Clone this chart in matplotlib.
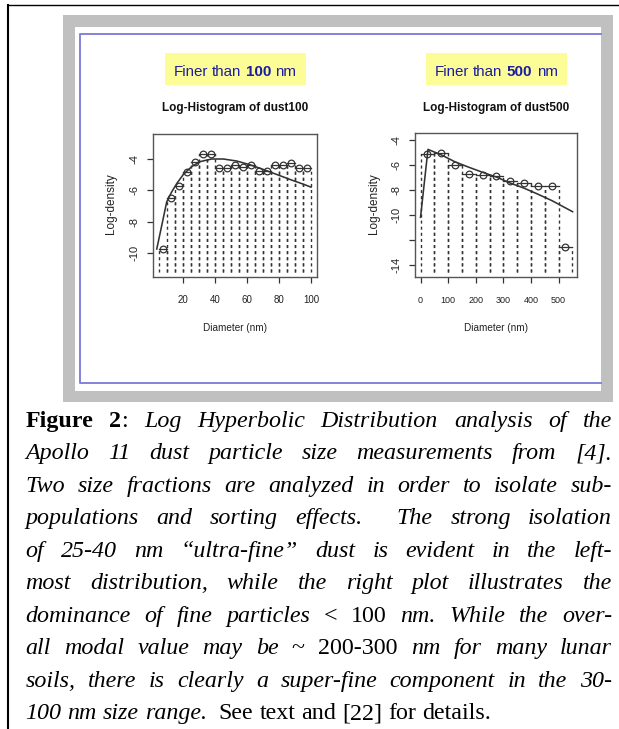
import matplotlib
matplotlib.use("Agg")
import matplotlib.pyplot as plt
from matplotlib import transforms
from matplotlib.lines import Line2D
from matplotlib.patches import Rectangle

W, H = 619, 729  # page size in pixels (dpi 100)

# ---- values ----
# left panel: dust finer than 100 nm
left_breaks = [5, 10, 15, 20, 25, 30, 35, 40, 45, 50, 55, 60, 65, 70, 75, 80, 85, 90, 95, 100]
left_logdens = [-9.76, -6.50, -5.74, -4.86, -4.21, -3.70, -3.70, -4.56, -4.56, -4.39,
                -4.54, -4.39, -4.75, -4.75, -4.39, -4.39, -4.24, -4.60, -4.60]
left_fit_x = [3.6, 6.7, 9.8, 12.9, 16.1, 20.2, 25.4, 30.6, 37.9, 45.2, 53.6, 61.9,
              70.2, 78.6, 86.9, 95.2, 100.0]
left_fit_y = [-9.76, -8.26, -6.75, -6.11, -5.57, -4.99, -4.49, -4.17, -4.00, -4.00,
              -4.13, -4.37, -4.67, -4.99, -5.31, -5.61, -5.80]
left_floor = -11.2
left_xlim = (1.25, 103.75)
left_ylim = (-11.55, -2.4)
left_xticks = [20, 40, 60, 80, 100]
left_xticklabels = ["20", "40", "60", "80", "100"]
left_yticks = [-10, -8, -6, -4]
left_yticklabels = ["-10", "-8", "-6", "-4"]

# right panel: dust finer than 500 nm
right_breaks = [0, 50, 100, 150, 200, 250, 300, 350, 400, 450, 500, 550]
right_logdens = [-5.08, -5.05, -6.00, -6.68, -6.78, -6.90, -7.30, -7.45, -7.70, -7.70, -12.55]
right_fit_x = [0, 27, 77, 125, 176, 225, 275, 326, 375, 425, 476, 551]
right_fit_y = [-10.19, -4.74, -5.20, -5.74, -6.18, -6.58, -6.96, -7.45, -7.85, -8.33,
               -8.85, -9.74]
right_floor = -14.55
right_xlim = (-20, 568)
right_ylim = (-15.0, -3.45)
right_xticks = [0, 100, 200, 300, 400, 500]
right_xticklabels = ["0", "100", "200", "300", "400", "500"]
right_yticks = [-14, -12, -10, -8, -6, -4]
right_yticklabels = ["-14", "", "-10", "-8", "-6", "-4"]

caption = [
    [("Figure 2", "bold"), (": ", "normal"), ("Log Hyperbolic Distribution analysis of the", "italic")],
    [("Apollo 11 dust particle size measurements from [4].", "italic")],
    [("Two size fractions are analyzed in order to isolate sub-", "italic")],
    [("populations and sorting effects.  The strong isolation", "italic")],
    [("of 25-40 nm \u201cultra-fine\u201d dust is evident in the left-", "italic")],
    [("most distribution, while the right plot illustrates the", "italic")],
    [("dominance of fine particles ", "italic"), ("< 100", "normal"), (" nm. While the over-", "italic")],
    [("all modal value may be ", "italic"), ("~ 200-300", "normal"), (" nm for many lunar", "italic")],
    [("soils, there is clearly a super-fine component in the 30-", "italic")],
    [("100 nm size range.", "italic"), ("  See text and [22] for details.", "normal")],
]

INK = "#333333"
SANS = "Liberation Sans"
SERIF = "Liberation Serif"

fig = plt.figure(figsize=(W / 100, H / 100), dpi=100)
fig.patch.set_facecolor("white")
# pixel coordinates measured from the top-left corner of the page
px = transforms.Affine2D().scale(1 / W, -1 / H).translate(0, 1) + fig.transFigure
renderer = fig.canvas.get_renderer()


def props(family, size, style):
    d = dict(family=family, size=size)
    if style == "bold":
        d["weight"] = "bold"
    if style == "italic":
        d["style"] = "italic"
    return d


def width_of(s, fp):
    t = fig.text(0, 0, s, **fp)
    w = t.get_window_extent(renderer).width
    t.remove()
    return w


def tokenise(runs):
    # words as lists of styled pieces, with the number of spaces before each
    words = []
    spaces = 0
    for text, style in runs:
        for i, part in enumerate(text.split(" ")):
            if i > 0:
                spaces += 1
            if not part:
                continue
            if words and spaces == 0:
                words[-1][1].append((part, style))
            else:
                words.append([spaces if words else 0, [(part, style)]])
            spaces = 0
    return words


def set_line(runs, y, x0, x1, family, size, justify=False, center=None, color="black"):
    words = tokenise(runs)
    widths = [[width_of(t, props(family, size, st)) for t, st in pieces] for _, pieces in words]
    total = sum(sum(w) for w in widths)
    nsp = sum(g for g, _ in words)
    base = props(family, size, runs[-1][1])
    if justify and nsp:
        space = (x1 - x0 - total) / nsp
    else:
        space = width_of("a a", base) - width_of("aa", base)
    x = x0 if center is None else center - (total + nsp * space) / 2
    for (gap, pieces), ws in zip(words, widths):
        x += gap * space
        for (t, st), w in zip(pieces, ws):
            fig.text(x, y, t, transform=px, ha="left", va="baseline", color=color,
                     **props(family, size, st))
            x += w


# page frame, grey mat and blue border of the pasted screenshot
fig.add_artist(Line2D([8, 619], [5, 5], transform=px, color="black", lw=1.0, zorder=-4))
fig.add_artist(Line2D([8, 8], [5, 729], transform=px, color="black", lw=1.5, zorder=-4))
fig.add_artist(Rectangle((63, 15), 550, 387, transform=px, fc="#c0c0c0", ec="none", zorder=-5))
fig.add_artist(Rectangle((75, 27), 526, 364, transform=px, fc="white", ec="none", zorder=-5))
fig.add_artist(Line2D([601, 80, 80, 601], [34, 34, 383, 383], transform=px,
                      color="#8282d8", lw=1.4, zorder=-4))


def panel(box, breaks, logdens, floor, fit_x, fit_y, xlim, ylim,
          xticks, xticklabels, yticks, yticklabels, name, tag, xtick_size):
    x0, y0, x1, y1 = box
    ax = fig.add_axes([x0 / W, 1 - y1 / H, (x1 - x0) / W, (y1 - y0) / H])
    mids = [(a + b) / 2 for a, b in zip(breaks[:-1], breaks[1:])]
    for a, b, h in zip(breaks[:-1], breaks[1:], logdens):
        ax.plot([a, a], [floor, h], color=INK, lw=1.0, ls=(0, (2.2, 2.2)))
        ax.plot([b, b], [floor, h], color=INK, lw=1.0, ls=(0, (2.2, 2.2)))
        ax.plot([a, b], [h, h], color=INK, lw=0.9)
    ax.plot(mids, logdens, "o", mfc="none", mec=INK, ms=4.8, mew=0.9)
    ax.plot(fit_x, fit_y, color=INK, lw=1.15)
    ax.set_xlim(*xlim)
    ax.set_ylim(*ylim)
    ax.set_xticks(xticks, xticklabels)
    ax.set_yticks(yticks, yticklabels)
    ax.tick_params(axis="both", direction="out", length=4.3, width=0.9, color=INK,
                   labelcolor="#222222")
    ax.tick_params(axis="x", labelsize=xtick_size, pad=9)
    ax.tick_params(axis="y", labelsize=8, pad=5.5, labelrotation=90)
    for lbl in ax.get_xticklabels() + ax.get_yticklabels():
        lbl.set_family(SANS)
    for lbl in ax.get_yticklabels():
        lbl.set_va("center")
    for sp in ax.spines.values():
        sp.set_color("#555555")
        sp.set_linewidth(1.0)
    ax.set_xlabel("Diameter (nm)", family=SANS, size=7.2, color="#222222")
    ax.xaxis.label.set_va("baseline")
    ax.xaxis.set_label_coords(0.5, (y1 - 331) / (y1 - y0))
    ax.set_ylabel("Log-density", family=SANS, size=8.5, color="#222222")
    ax.yaxis.label.set_va("center")
    ax.yaxis.set_label_coords(-41.5 / (x1 - x0), 0.51)

    cx = (x0 + x1) / 2
    fig.text(cx, 110.7, "Log-Histogram of " + name, transform=px, ha="center", va="baseline",
             family=SANS, weight="bold", size=8.5, color="#111111")
    fig.add_artist(Rectangle((cx - 70.5, 53), 141, 32, transform=px, fc="#fdfd98",
                             ec="none", zorder=-3))
    set_line([("Finer than ", "normal"), (tag, "bold"), (" nm", "normal")], 76,
             0, 0, SANS, 10.9, center=cx, color="#1d1da0")
    return ax


panel((153, 134, 317, 277), left_breaks, left_logdens, left_floor, left_fit_x, left_fit_y,
      left_xlim, left_ylim, left_xticks, left_xticklabels, left_yticks, left_yticklabels,
      "dust100", "100", 7)
panel((415, 133.3, 577.3, 277.3), right_breaks, right_logdens, right_floor, right_fit_x,
      right_fit_y, right_xlim, right_ylim, right_xticks, right_xticklabels, right_yticks,
      right_yticklabels, "dust500", "500", 6.5)

# justified caption below the figure
for i, runs in enumerate(caption):
    set_line(runs, 426.7 + 32.5 * i, 25.5, 612, SERIF, 17.3,
             justify=(i < len(caption) - 1))

fig.savefig("out.png", dpi=100)
